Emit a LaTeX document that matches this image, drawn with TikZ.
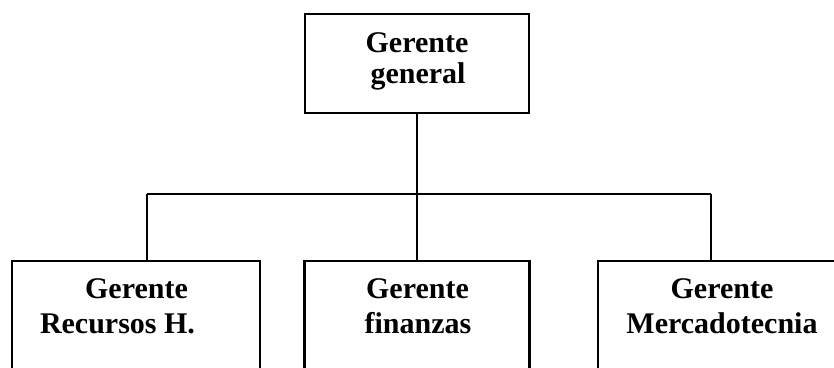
\documentclass[tikz,border=0pt]{standalone}
\usepackage{fontspec}
\setmainfont{Liberation Serif}
\begin{document}
\begin{tikzpicture}[x=1pt,y=-1pt,
  orgbox/.style={draw=black,line width=2.2pt,fill=white,inner sep=0pt},
  lbl/.style={anchor=base,inner sep=0pt,font=\fontsize{30}{32}\selectfont\bfseries},
  link/.style={draw=black,line width=1.8pt}]
\useasboundingbox[fill=white] (0,0) rectangle (834,367);
\clip (0,0) rectangle (834,367);

% boxes
\node[orgbox,minimum width=224pt,minimum height=99pt] (gg) at (417,63.5) {};
\node[orgbox,minimum width=248pt,minimum height=160pt] (rh) at (136,341) {};
\node[orgbox,minimum width=225pt,minimum height=160pt] (fi) at (417,341) {};
\node[orgbox,minimum width=248pt,minimum height=160pt] (me) at (722,341) {};

% labels
\node[lbl] (gg1) at (417,52) {Gerente};
\node[lbl] (gg2) at (418,83) {general};
\node[lbl] (rh1) at (136.5,298) {Gerente};
\node[lbl] (rh2) at (117.5,333) {Recursos H.};
\node[lbl] (fi1) at (417.5,298) {Gerente};
\node[lbl] (fi2) at (418,333) {finanzas};
\node[lbl] (me1) at (722,298) {Gerente};
\node[lbl] (me2) at (722,333) {Mercadotecnia};

% connectors
\coordinate (j) at (417,194);
\coordinate (cl) at (147,194);
\coordinate (cr) at (711,194);
\draw[link] (gg.south) -- (j);
\draw[link] (cl) -- (cr);
\draw[link] (cl) -- (cl |- rh.north);
\draw[link] (j) -- (fi.north);
\draw[link] (cr) -- (cr |- me.north);
\end{tikzpicture}
\end{document}
